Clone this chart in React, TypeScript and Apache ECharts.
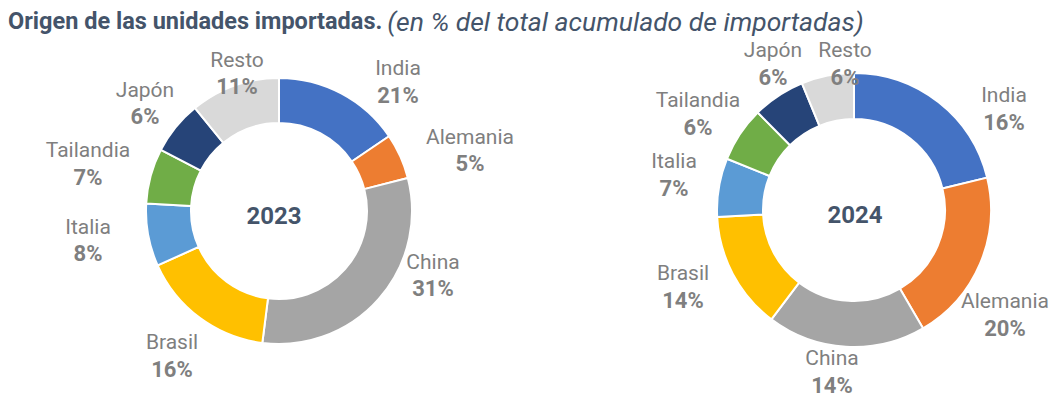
import React, { useEffect, useRef } from 'react';
import * as echarts from 'echarts';

// ---- Data ----
const categories = ['India', 'Alemania', 'China', 'Brasil', 'Italia', 'Tailandia', 'Japón', 'Resto'];
// slice sizes as drawn in the rings (share of the ring, %)
const slices2023 = [15.5, 5.5, 31, 16.3, 7.6, 6.7, 6.5, 10.9];
const slices2024 = [21.2, 20.4, 18.7, 13.9, 6.9, 6.5, 6.2, 6.2];
// percentages printed on the labels
const shown2023 = [21, 5, 31, 16, 8, 7, 6, 11];
const shown2024 = [16, 20, 14, 14, 7, 6, 6, 6];
const years = ['2023', '2024'];

// ---- Styles / layout ----
const COLORS = ['#4472C4', '#ED7D31', '#A5A5A5', '#FFC000', '#5B9BD5', '#70AD47', '#264478', '#D9D9D9'];
const TITLE_COLOR = '#44546A';
const LABEL_COLOR = '#7F7F7F';
const FONT = 'Roboto';

const CENTER_2023 = [279, 211];
const CENTER_2024 = [854, 210];
const RADIUS_2023 = [88, 133];
const RADIUS_2024 = [91, 137];

// label box centres relative to each ring's centre
const LABEL_OFFSETS_2023 = [
  [119, -129.5], [191, -61], [154, 64], [-107, 144.5],
  [-191, 29], [-191, -47.5], [-134, -108], [-42, -138],
];
const LABEL_OFFSETS_2024 = [
  [150, -101.5], [151, 104.5], [-22, 161.5], [-171, 76.5],
  [-180, -35.5], [-156, -96.5], [-81, -146.5], [-9, -146.5],
];

function makeSeries(
  year: string,
  values: number[],
  shown: number[],
  center: number[],
  radius: number[],
  offsets: number[][]
) {
  return {
    type: 'pie',
    name: year,
    center,
    radius,
    startAngle: 90,
    clockwise: true,
    avoidLabelOverlap: false,
    silent: true,
    emphasis: { disabled: true },
    itemStyle: { borderColor: '#ffffff', borderWidth: 2 },
    data: categories.map((c, i) => ({ name: c, value: values[i], itemStyle: { color: COLORS[i] } })),
    label: {
      show: true,
      position: 'outside',
      formatter: (p: any) => `{n|${p.name}}\n{p|${shown[p.dataIndex]}%}`,
      rich: {
        n: { fontFamily: FONT, fontSize: 21, color: LABEL_COLOR, lineHeight: 27, align: 'center' },
        p: { fontFamily: FONT, fontSize: 22, fontWeight: 'bold', color: LABEL_COLOR, lineHeight: 27, align: 'center' },
      },
    },
    labelLine: { show: false },
    labelLayout: (params: any) => {
      const o = offsets[params.dataIndex];
      return { x: center[0] + o[0], y: center[1] + o[1], align: 'center', verticalAlign: 'middle' };
    },
  };
}

export default function App() {
  const ref = useRef<HTMLDivElement>(null);

  useEffect(() => {
    if (!ref.current) return;
    const chart = echarts.init(ref.current, null, { renderer: 'svg' });
    chart.setOption({
      animation: false,
      backgroundColor: '#ffffff',
      title: {
        left: 3,
        top: 1,
        text: '{b|Origen de las unidades importadas.} {i|(en % del total acumulado de importadas)}',
        textStyle: {
          rich: {
            b: { fontFamily: FONT, fontSize: 23.5, fontWeight: 'bold', color: TITLE_COLOR, lineHeight: 30 },
            i: { fontFamily: FONT, fontSize: 26.5, fontStyle: 'italic', fontWeight: 'normal', color: TITLE_COLOR, lineHeight: 30 },
          },
        },
      },
      graphic: [
        {
          type: 'text',
          x: CENTER_2023[0] - 5,
          y: CENTER_2023[1] + 5,
          style: { text: years[0], fontFamily: FONT, fontSize: 24, fontWeight: 'bold', fill: TITLE_COLOR, align: 'center', verticalAlign: 'middle' },
        },
        {
          type: 'text',
          x: CENTER_2024[0] + 1,
          y: CENTER_2024[1] + 5,
          style: { text: years[1], fontFamily: FONT, fontSize: 24, fontWeight: 'bold', fill: TITLE_COLOR, align: 'center', verticalAlign: 'middle' },
        },
      ],
      series: [
        makeSeries(years[0], slices2023, shown2023, CENTER_2023, RADIUS_2023, LABEL_OFFSETS_2023),
        makeSeries(years[1], slices2024, shown2024, CENTER_2024, RADIUS_2024, LABEL_OFFSETS_2024),
      ],
    });
    return () => chart.dispose();
  }, []);

  return (
    <div
      ref={ref}
      style={{ position: 'absolute', left: 0, top: 0, width: 1055, height: 397, background: '#ffffff' }}
    />
  );
}
